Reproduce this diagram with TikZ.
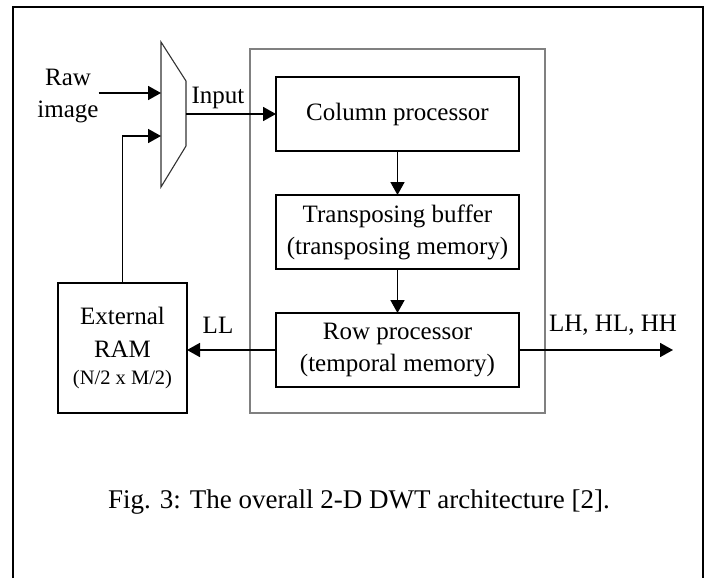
\documentclass[tikz,border=0pt]{standalone}
\usepackage{fontspec}
\setmainfont{Liberation Serif}
\usetikzlibrary{arrows.meta,positioning}

\begin{document}
\begin{tikzpicture}[
   x=1pt, y=-1pt,
   node distance=44pt,
   block/.style={draw, line width=1.7pt, align=center, minimum width=243pt,
      minimum height=74pt, inner sep=2pt, outer sep=0pt,
      font=\fontsize{25}{32}\selectfont},
   ram/.style={draw, line width=1.7pt, align=center, minimum width=129pt,
      minimum height=130pt, inner sep=2pt, outer sep=0pt,
      font=\fontsize{25}{33}\selectfont},
   plain/.style={align=center, inner sep=0pt, font=\fontsize{25}{32}\selectfont},
   arrow/.style={-{Triangle[length=13pt,width=14pt]}, line width=1.7pt}
]
\useasboundingbox (0,0) rectangle (709,578);
% page frame, open at the bottom
\draw[line width=1.5pt] (13,578) -- (13,7) -- (703,7) -- (703,578);
% processor enclosure
\draw[line width=1.4pt, black!50] (250,49) rectangle (545,413);

\node[block] (col) at (397.5,114) {Column processor};
\node[block, below=of col] (tbuf) {Transposing buffer\\(transposing memory)};
\node[block, below=of tbuf] (row) {Row processor\\(temporal memory)};
\node[ram] (ram) at (122.5,348)
   {External\\RAM\\[-6pt]{\fontsize{20.5}{24}\selectfont (N/2 x M/2)}};

% multiplexer
\draw[line width=1.1pt, black!80] (161,42) -- (186,81) -- (186,146) -- (161,187)
   -- cycle;
\coordinate (muxa) at (161,93);
\coordinate (muxb) at (161,136);
\coordinate (muxo) at (186,114);
\coordinate (outr) at (673,349);

\node[plain] (raw) at (68,96) {Raw\\image};
\node[plain] (inlab) at (218,98) {Input};
\node[plain] (lllab) at (218,325) {LL};
\node[plain] (outlab) at (613,325) {LH, HL, HH};

\draw[arrow] (raw.east |- muxa) -- (muxa);
\draw[arrow] (ram.north) |- (muxb);
\draw[arrow] (muxo) -- (col.west);
\draw[arrow] (col) -- (tbuf);
\draw[arrow] (tbuf) -- (row);
\draw[arrow] (row.west) -- (row.west -| ram.east);
\draw[arrow] (row.east) -- (row.east -| outr);

\node[plain, font=\fontsize{27}{32}\selectfont] (cap) at (359,502)
   {Fig. 3: The overall 2-D DWT architecture [2].};
\end{tikzpicture}
\end{document}
